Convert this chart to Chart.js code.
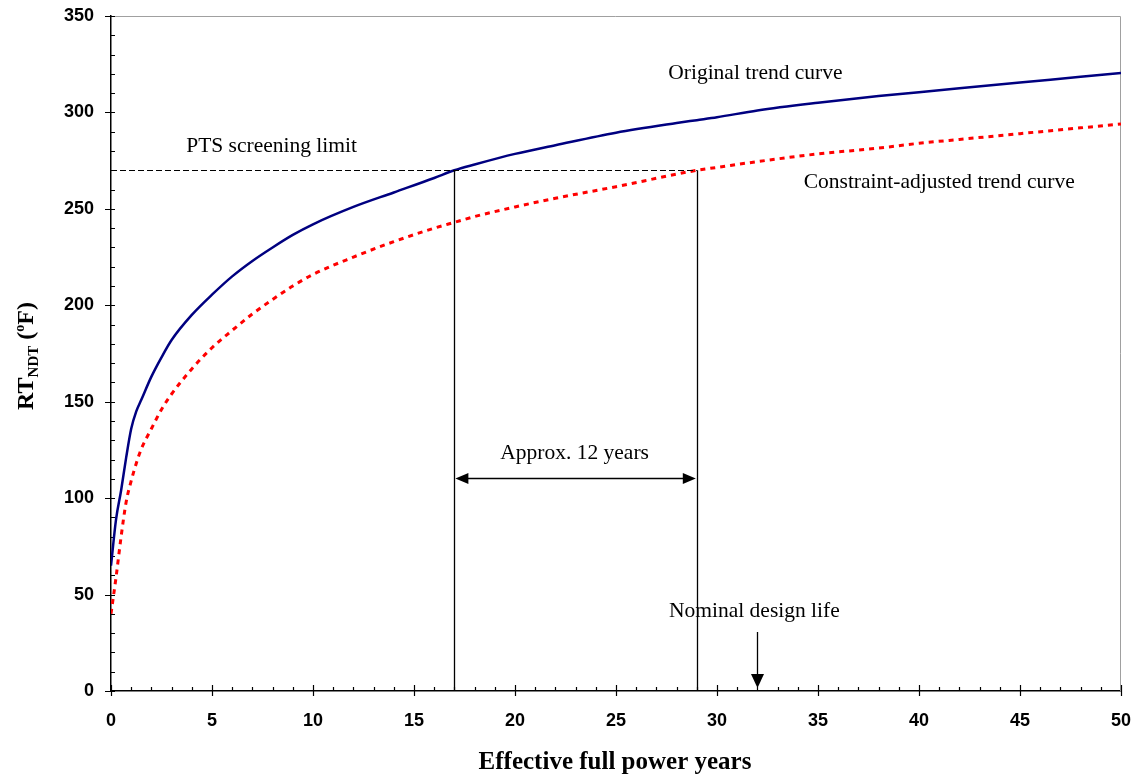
<!DOCTYPE html>
<html>
<head>
<meta charset="utf-8">
<script src="https://cdn.jsdelivr.net/npm/chart.js@4/dist/chart.umd.min.js"></script>
<style>
  html, body { margin: 0; padding: 0; background: #fff; }
  #wrap { width: 1136px; height: 778px; }
</style>
</head>
<body>
<div id="wrap"><canvas id="chart" width="1136" height="778"></canvas></div>
<script>
// effective full power years (shared x for both curves)
const years = [0, 0.25, 0.5, 0.75, 1, 1.25, 1.5, 2, 2.5, 3, 4, 5, 6, 7, 8, 9, 10, 12, 14, 16, 17, 18,
               20, 22, 25, 28, 29, 30, 32, 35, 38, 40, 42, 45, 48, 50];
// RTndt (F)
const originalTrend = [65, 89, 104, 121, 136, 145, 151, 163, 173, 182, 195, 205.5, 215, 223, 230, 236.5, 242, 251, 258.5, 266, 270, 273,
                       278.5, 283, 289.5, 294.5, 296, 297.5, 301, 305, 308.5, 310.5, 312.5, 315.5, 318.5, 320.5];
const adjustedTrend = [40, 59, 80, 98, 109, 118, 125.5, 136, 146, 154, 167, 178, 187, 195.5, 203, 210, 216, 225, 233, 240, 243, 246,
                       251, 255.5, 261.5, 268, 270, 271.5, 274.5, 278.5, 281.5, 284, 286, 289, 292, 294];

const ptsLimit = 270;
const crossOriginal = 17;
const crossAdjusted = 29;
const designLife = 32;

const serif = '"Liberation Serif", "Times New Roman", serif';
const sans = '"Liberation Sans", Arial, sans-serif';

// axis frame + tick marks (major ticks cross the axis, minor ones sit inside)
const frameTicks = {
  id: 'frameTicks',
  beforeDatasetsDraw(chart) {
    const { ctx, chartArea: a, scales: { x, y } } = chart;
    ctx.save();
    ctx.strokeStyle = '#a0a0a0';
    ctx.lineWidth = 1;
    ctx.beginPath();
    ctx.moveTo(a.left, a.top + 0.5);
    ctx.lineTo(a.right - 0.5, a.top + 0.5);
    ctx.lineTo(a.right - 0.5, a.bottom);
    ctx.stroke();

    ctx.strokeStyle = '#000';
    ctx.lineWidth = 1.2;
    ctx.beginPath();
    for (let v = 0; v <= 350; v += 10) {
      const py = Math.round(y.getPixelForValue(v)) + 0.5;
      ctx.moveTo(v % 50 === 0 ? a.left - 6 : a.left, py);
      ctx.lineTo(a.left + 4, py);
    }
    for (let v = 0; v <= 50; v += 1) {
      const px = Math.round(x.getPixelForValue(v)) + 0.5;
      ctx.moveTo(px, a.bottom - (v % 5 === 0 ? 6 : 4));
      ctx.lineTo(px, a.bottom + (v % 5 === 0 ? 5 : 0));
    }
    ctx.stroke();
    ctx.restore();
  }
};

function arrowHead(ctx, tx, ty, dx, dy, len, half) {
  // tip at (tx,ty), pointing along (dx,dy)
  const bx = tx - dx * len, by = ty - dy * len;
  ctx.beginPath();
  ctx.moveTo(tx, ty);
  ctx.lineTo(bx - dy * half, by + dx * half);
  ctx.lineTo(bx + dy * half, by - dx * half);
  ctx.closePath();
  ctx.fill();
}

const notes = {
  id: 'notes',
  afterDatasetsDraw(chart) {
    const { ctx, scales: { x, y } } = chart;
    const X = v => x.getPixelForValue(v), Y = v => y.getPixelForValue(v);
    ctx.save();
    ctx.strokeStyle = '#000';
    ctx.fillStyle = '#000';

    // PTS screening limit
    ctx.lineWidth = 1;
    ctx.setLineDash([6, 3]);
    ctx.beginPath();
    ctx.moveTo(X(0), Math.round(Y(ptsLimit)) + 0.5);
    ctx.lineTo(X(crossAdjusted), Math.round(Y(ptsLimit)) + 0.5);
    ctx.stroke();
    ctx.setLineDash([]);

    // drop lines
    ctx.lineWidth = 1.3;
    ctx.beginPath();
    [crossOriginal, crossAdjusted].forEach(v => {
      const px = Math.round(X(v)) + 0.5;
      ctx.moveTo(px, Y(ptsLimit));
      ctx.lineTo(px, Y(0));
    });
    ctx.stroke();

    // double arrow between the crossings
    const ay = Math.round(Y(110.5)) + 0.5;
    const x1 = X(crossOriginal) + 1, x2 = X(crossAdjusted) - 1;
    ctx.lineWidth = 1.5;
    ctx.beginPath();
    ctx.moveTo(x1 + 10, ay);
    ctx.lineTo(x2 - 10, ay);
    ctx.stroke();
    arrowHead(ctx, x1, ay, -1, 0, 13, 5.5);
    arrowHead(ctx, x2, ay, 1, 0, 13, 5.5);

    // design life arrow
    const dx = Math.round(X(designLife)) + 0.5;
    const tipY = Y(0) - 3;
    ctx.lineWidth = 1.3;
    ctx.beginPath();
    ctx.moveTo(dx, Y(0) - 59);
    ctx.lineTo(dx, tipY - 10);
    ctx.stroke();
    arrowHead(ctx, dx, tipY, 0, 1, 14, 6.5);

    // labels
    ctx.font = '21.5px ' + serif;
    ctx.textAlign = 'center';
    ctx.textBaseline = 'middle';
    [
      ['PTS screening limit', 7.95, 282.5],
      ['Original trend curve', 31.9, 320],
      ['Constraint-adjusted trend curve', 41.0, 263.5],
      ['Approx. 12 years', 22.95, 123],
      ['Nominal design life', 31.85, 41.2]
    ].forEach(([t, vx, vy]) => ctx.fillText(t, X(vx), Y(vy)));
    ctx.restore();
  }
};

const axisTitles = {
  id: 'axisTitles',
  afterDraw(chart) {
    const { ctx } = chart;
    ctx.save();
    ctx.fillStyle = '#000';
    ctx.textBaseline = 'alphabetic';
    ctx.textAlign = 'center';
    ctx.font = 'bold 25px ' + serif;
    ctx.fillText('Effective full power years', 615, 769);

    // RT_NDT (oF), rotated
    const parts = [
      { t: 'RT', f: 'bold 24px ' + serif, dy: 0 },
      { t: 'NDT', f: 'bold 15px ' + serif, dy: 5 },
      { t: ' (', f: 'bold 24px ' + serif, dy: 0 },
      { t: 'o', f: 'bold 14px ' + serif, dy: -9 },
      { t: 'F)', f: 'bold 24px ' + serif, dy: 0 }
    ];
    ctx.textAlign = 'left';
    let total = 0;
    parts.forEach(p => { ctx.font = p.f; p.w = ctx.measureText(p.t).width; total += p.w; });
    ctx.translate(33, 356);
    ctx.rotate(-Math.PI / 2);
    let cx = -total / 2;
    parts.forEach(p => {
      ctx.font = p.f;
      ctx.fillText(p.t, cx, p.dy);
      cx += p.w;
    });
    ctx.restore();
  }
};

// keep tick label overflow from pushing the plot area in
function noScalePadding(s) {
  s.paddingTop = 0;
  s.paddingBottom = 0;
  s.paddingLeft = 0;
  s.paddingRight = 0;
}

const tickFont = { family: sans, size: 18, weight: 'bold' };

new Chart(document.getElementById('chart'), {
  type: 'line',
  data: {
    datasets: [
      {
        label: 'Original trend curve',
        data: years.map((v, i) => ({ x: v, y: originalTrend[i] })),
        borderColor: '#000080',
        borderWidth: 2.5,
        pointRadius: 0,
        cubicInterpolationMode: 'monotone'
      },
      {
        label: 'Constraint-adjusted trend curve',
        data: years.map((v, i) => ({ x: v, y: adjustedTrend[i] })),
        borderColor: '#ff0000',
        borderWidth: 3,
        borderDash: [5, 5],
        pointRadius: 0,
        cubicInterpolationMode: 'monotone'
      }
    ]
  },
  options: {
    responsive: false,
    animation: false,
    devicePixelRatio: 1,
    layout: { padding: { top: 16, right: 15, left: 0, bottom: 0 } },
    plugins: { legend: { display: false }, tooltip: { enabled: false } },
    scales: {
      x: {
        type: 'linear',
        min: 0,
        max: 50,
        afterFit(s) { s.height = 87; noScalePadding(s); },
        ticks: { stepSize: 5, font: tickFont, color: '#000', padding: 19, maxRotation: 0 },
        grid: { drawOnChartArea: false, drawTicks: false },
        border: { color: '#000', width: 1.5 }
      },
      y: {
        min: 0,
        max: 350,
        afterFit(s) { s.width = 111; noScalePadding(s); },
        ticks: { stepSize: 50, font: tickFont, color: '#000', padding: 17 },
        grid: { drawOnChartArea: false, drawTicks: false },
        border: { color: '#000', width: 1.5 }
      }
    }
  },
  plugins: [frameTicks, notes, axisTitles]
});
</script>
</body>
</html>
